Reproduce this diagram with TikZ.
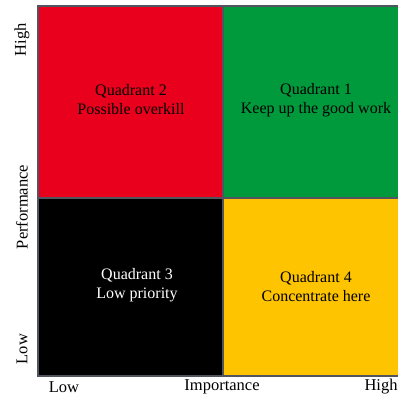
\documentclass[tikz,border=0pt]{standalone}
\usepackage{fontspec}
\setmainfont{Liberation Serif}
\definecolor{qred}{HTML}{E8001C}
\definecolor{qgreen}{HTML}{009A3C}
\definecolor{qyellow}{HTML}{FFC400}
\definecolor{qline}{HTML}{505560}
\begin{document}
\begin{tikzpicture}[x=1pt,y=-1pt,
  quad/.style={draw=qline,line width=1.2pt},
  qtext/.style={align=center,font=\fontsize{16}{19}\selectfont,inner sep=0pt},
  axis/.style={font=\fontsize{16.5}{19}\selectfont,inner sep=0pt}]
\useasboundingbox (0,0) rectangle (398,398);
\fill[qred] (38,6) rectangle (223,198);
\fill[qgreen] (223,6) rectangle (398,198);
\fill[black] (38,198) rectangle (223,376);
\fill[qyellow] (223,198) rectangle (398,376);
\draw[quad] (398,6) -- (38,6) -- (38,376) -- (398,376);
\draw[quad] (223,6) -- (223,376);
\draw[quad] (38,198) -- (398,198);
\node[qtext] (q2) at (131,100) {Quadrant 2\\Possible overkill};
\node[qtext] (q1) at (316,100) {Quadrant 1\\Keep up the good work};
\node[qtext,text=white] (q3) at (137,285) {Quadrant 3\\Low priority};
\node[qtext] (q4) at (316,287) {Quadrant 4\\Concentrate here};
\node[axis,rotate=90] (yh) at (22,40) {High};
\node[axis,rotate=90] (yp) at (22,207) {Performance};
\node[axis,rotate=90] (yl) at (22,349) {Low};
\node[axis] (xl) at (64,387) {Low};
\node[axis] (xi) at (222,387) {Importance};
\node[axis] (xh) at (381,387) {High};
\end{tikzpicture}
\end{document}
